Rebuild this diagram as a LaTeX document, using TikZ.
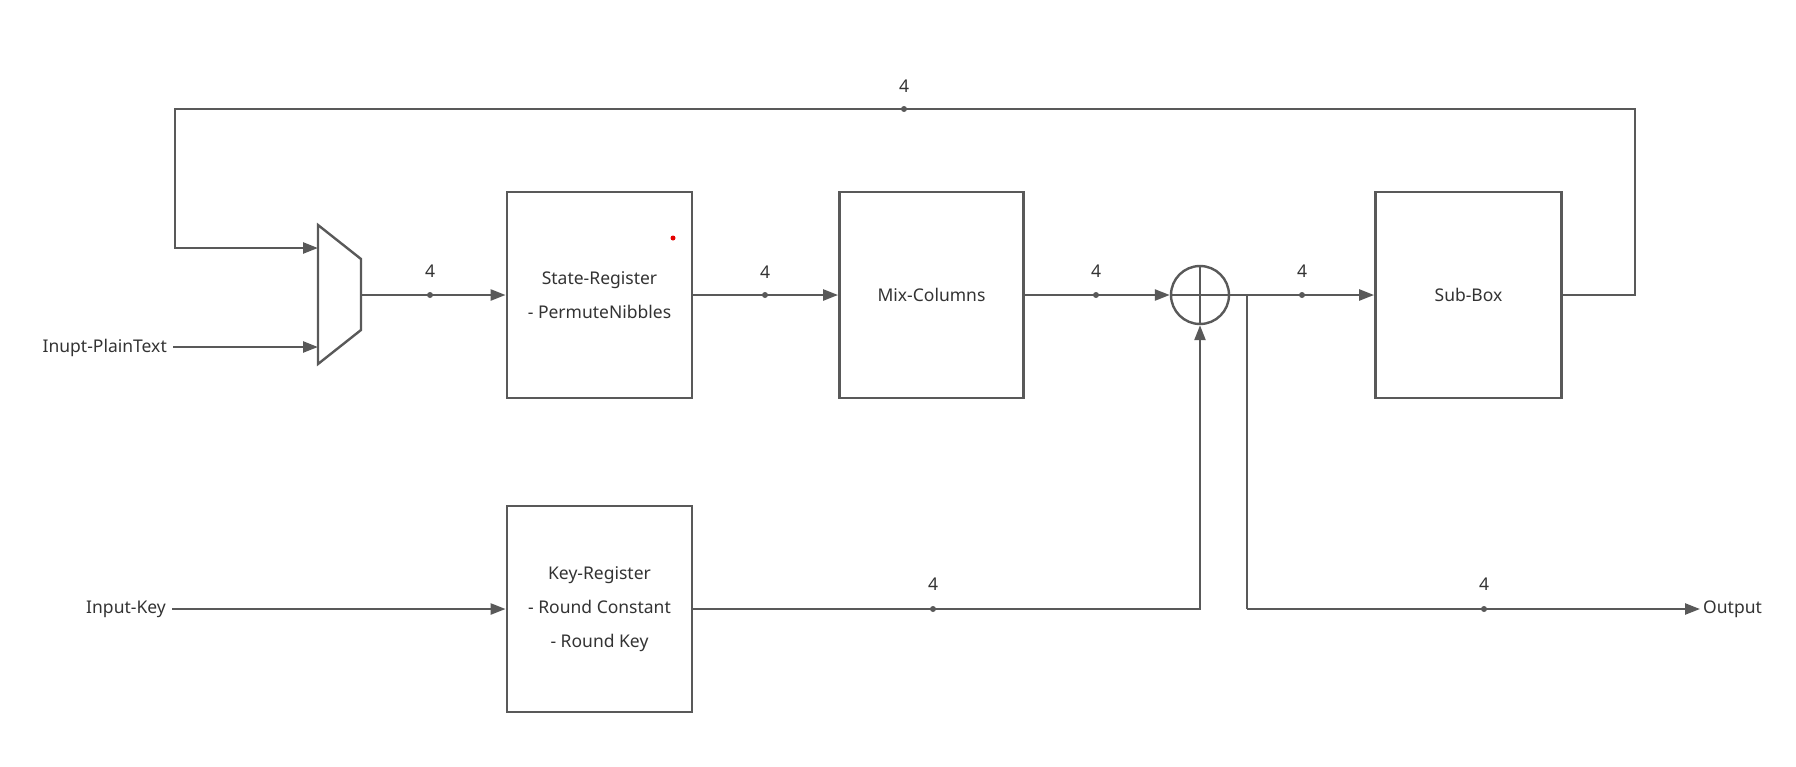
\documentclass[tikz,border=0pt]{standalone}
\usepackage{fontspec}
\setmainfont{Noto Sans}
\usetikzlibrary{arrows.meta}
\definecolor{wire}{HTML}{595959}
\definecolor{txt}{HTML}{333333}
\begin{document}
\begin{tikzpicture}[x=1pt,y=-1pt,
  wirestyle/.style={draw=wire,line width=2.4pt},
  arr/.style={wirestyle,-{Triangle[length=15pt,width=11pt]}},
  blockbox/.style={draw=wire,line width=2.8pt,fill=white,inner sep=0pt,text=txt,font=\fontsize{17.5}{34}\selectfont,align=center},
  lbl/.style={text=txt,font=\fontsize{17.5}{20}\selectfont,inner sep=0pt},
  dotmark/.style={circle,fill=wire,inner sep=0pt,minimum size=6pt}]
\useasboundingbox (0,0) rectangle (1796,766);
% blocks
\node[blockbox,minimum width=185pt,minimum height=206pt] (sr) at (599.5,295) {State-Register\\- PermuteNibbles};
\node[blockbox,minimum width=184pt,minimum height=206pt] (mc) at (931.5,295) {Mix-Columns};
\node[blockbox,minimum width=186pt,minimum height=206pt] (sb) at (1468.5,295) {Sub-Box};
\node[blockbox,minimum width=185pt,minimum height=206pt] (kr) at (599.5,609) {Key-Register\\- Round Constant\\- Round Key};
\node[circle,draw=wire,line width=2.4pt,minimum size=58pt,inner sep=0pt] (xr) at (1200,295) {};
\draw[wirestyle] (xr.north) -- (xr.south) (xr.west) -- (xr.east);
% red dot
\node[circle,fill=red!90!black,inner sep=0pt,minimum size=5pt] (rd) at (673,238) {};
% mux
\draw[draw=wire,line width=2.4pt,line join=miter] (318,225) -- (361,259) -- (361,330) -- (318,364) -- cycle;
\coordinate (muxa) at (318,248);
\coordinate (muxb) at (318,347);
\coordinate (muxo) at (361,295);
% labels
\node[lbl,anchor=east] (pt) at (167,348) {Inupt-PlainText};
\node[lbl,anchor=east] (ik) at (166,609) {Input-Key};
\node[lbl,anchor=west] (out) at (1703,609) {Output};
% dots
\node[dotmark] (d1) at (430,295) {};
\node[dotmark] (d2) at (765,295) {};
\node[dotmark] (d3) at (1096,295) {};
\node[dotmark] (d4) at (1302,295) {};
\node[dotmark] (d5) at (904,109) {};
\node[dotmark] (d6) at (933,609) {};
\node[dotmark] (d7) at (1484,609) {};
\node[lbl] (n1) at (430,271) {4};
\node[lbl] (n2) at (765,272) {4};
\node[lbl] (n3) at (1096,271) {4};
\node[lbl] (n4) at (1302,271) {4};
\node[lbl] (n5) at (904,86) {4};
\node[lbl] (n6) at (933,584) {4};
\node[lbl] (n7) at (1484,584) {4};
% connectors
\coordinate (br) at (1247,295);
\coordinate (ob) at (1247,609);
\coordinate (oend) at (1700,609);
\coordinate (ikstart) at (172,609);
\coordinate (ptstart) at (173,347);
\draw[arr] (muxo) -- (d1.center) -- (sr.west);
\draw[arr] (sr.east) -- (d2.center) -- (mc.west);
\draw[arr] (mc.east) -- (d3.center) -- (xr.west);
\draw[arr] (xr.east) -- (d4.center) -- (sb.west);
\draw[wirestyle] (br) -- (ob);
\draw[arr] (ob) -- (d7.center) -- (oend);
\draw[arr,line join=miter] (sb.east) -- (1635,295) -- (1635,109) -- (d5.center) -- (175,109) -- (175,248) -- (muxa);
\draw[arr] (ptstart) -- (muxb);
\draw[arr] (ikstart) -- (kr.west);
\draw[arr,line join=miter] (kr.east) -- (d6.center) -- (1200,609) -- (xr.south);
\end{tikzpicture}
\end{document}
